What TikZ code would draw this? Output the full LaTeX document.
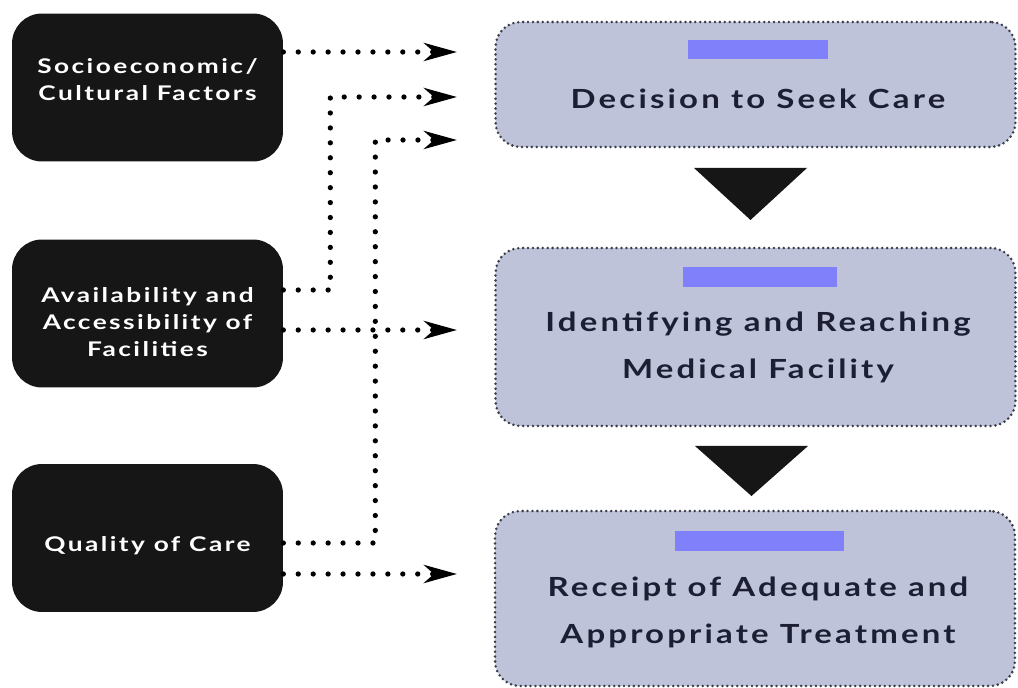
\documentclass[tikz,border=0pt]{standalone}
\usepackage{fontspec}
\newfontfamily\factorfont[FakeStretch=1.3, LetterSpace=12]{Lato}
\newfontfamily\stagefont[FakeStretch=1.25, LetterSpace=12]{Lato}
\usetikzlibrary{arrows.meta}
\definecolor{stagefill}{RGB}{190,195,217}
\definecolor{stageedge}{RGB}{58,60,72}
\definecolor{stagetext}{RGB}{28,31,51}
\definecolor{barblue}{RGB}{128,128,250}
\definecolor{factorfill}{RGB}{22,22,22}

\begin{document}
\begin{tikzpicture}[x=0.02cm, y=-0.02cm,
    factor/.style={fill=factorfill, rounded corners=0.6cm, minimum width=5.42cm, minimum height=2.96cm},
    factortxt/.style={text=white, align=center, font=\factorfont\bfseries\fontsize{11.5}{15.3}\selectfont},
    stage/.style={fill=stagefill, draw=stageedge, line width=1.6pt, dash pattern=on 0pt off 2.8pt, line cap=round, rounded corners=0.5cm, minimum width=10.4cm},
    stagetxt/.style={text=stagetext, align=center, font=\stagefont\bfseries\fontsize{15}{26.7}\selectfont},
    bar/.style={fill=barblue, minimum height=0.39cm, inner sep=0pt},
    dotline/.style={line width=3pt, dash pattern=on 0pt off 8.5pt, line cap=round, -{Stealth[length=0.66cm, width=0.36cm, inset=0.2cm]}}
  ]
            \useasboundingbox (0,0) rectangle (1018,688);

            \node[factor] (soc) at (147.5,87.5) {};
            \node[factor] (ava) at (147.5,313.5) {};
            \node[factor] (qua) at (147.5,538) {};
            \node[factortxt] (soctxt) at (147.5,80) {Socioeconomic/\\Cultural Factors};
            \node[factortxt] (avatxt) at (147.5,322) {Availability and\\Accessibility of\\Facilities};
            \node[factortxt] (quatxt) at (147.5,546) {Quality of Care};

            \node[stage, minimum height=2.5cm] (dec) at (755.5,84.5) {};
            \node[stage, minimum height=3.56cm] (ide) at (755.5,337) {};
            \node[stage, minimum height=3.5cm] (rec) at (755,598.5) {};
            \node[bar, minimum width=2.8cm] (decbar) at (758,49.5) {};
            \node[bar, minimum width=3.08cm] (idebar) at (760,277) {};
            \node[bar, minimum width=3.38cm] (recbar) at (759.5,541) {};
            \node[stagetxt] (dectxt) at (758,99) {Decision to Seek Care};
            \node[stagetxt] (idetxt) at (758,347) {Identifying and Reaching\\Medical Facility};
            \node[stagetxt] (rectxt) at (758,612.5) {Receipt of Adequate and\\Appropriate Treatment};

            \fill[factorfill] (694,168) -- (807,168) -- (750.5,220) -- cycle;
            \fill[factorfill] (695,446) -- (808,446) -- (751.5,496) -- cycle;

            \coordinate (t1) at (457,52);
            \coordinate (t2) at (457,97);
            \coordinate (t3) at (457,140);
            \coordinate (t4) at (457,330);
            \coordinate (t5) at (457,574);

            \draw[dotline] (soc.east |- t1) -- (t1);
            \draw[dotline] (ava.east |- 0,290) -- ++(47,0) |- (t2);
            \draw[dotline] (qua.east |- 0,543) -- ++(92,0) |- (t3);
            \draw[dotline] (ava.east |- t4) -- (t4);
            \draw[dotline] (qua.east |- t5) -- (t5);
        \end{tikzpicture}
\end{document}
